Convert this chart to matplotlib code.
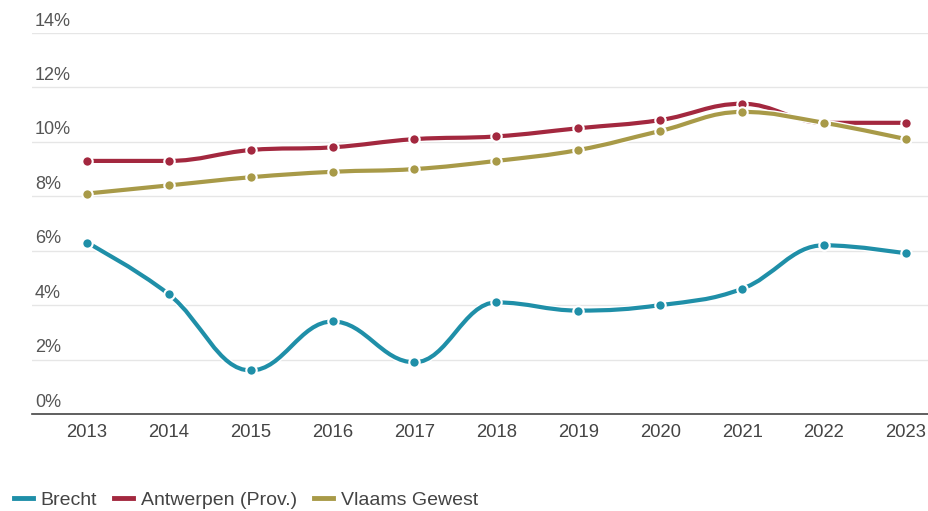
import matplotlib
matplotlib.use("Agg")
import matplotlib.pyplot as plt
from matplotlib.path import Path
from matplotlib.patches import PathPatch
from matplotlib.lines import Line2D
import matplotlib.patheffects as pe
import numpy as np

# Data
# ----
years = [2013, 2014, 2015, 2016, 2017, 2018, 2019, 2020, 2021, 2022, 2023]
brecht = [6.3, 4.4, 1.6, 3.4, 1.9, 4.1, 3.8, 4.0, 4.6, 6.2, 5.9]
antwerpen = [9.3, 9.3, 9.7, 9.8, 10.1, 10.2, 10.5, 10.8, 11.4, 10.7, 10.7]
vlaams = [8.1, 8.4, 8.7, 8.9, 9.0, 9.3, 9.7, 10.4, 11.1, 10.7, 10.1]

series = [("Brecht", brecht, "#1f8fa8"),
          ("Antwerpen (Prov.)", antwerpen, "#a3283f"),
          ("Vlaams Gewest", vlaams, "#a89a48")]

yticks = [0, 2, 4, 6, 8, 10, 12, 14]

plt.rcParams['font.family'] = ['Liberation Sans', 'DejaVu Sans']


def spline_path(xs, ys, smoothing=1.5):
  # highcharts-like spline: bezier segments through the data points
  n = len(xs)
  verts = [(xs[0], ys[0])]
  codes = [Path.MOVETO]
  right_prev = (xs[0], ys[0])
  for i in range(1, n):
    x, y = xs[i], ys[i]
    if i < n - 1:
      lx, ly = xs[i-1], ys[i-1]
      nx, ny = xs[i+1], ys[i+1]
      d = smoothing + 1
      lcx = (smoothing * x + lx) / d
      lcy = (smoothing * y + ly) / d
      rcx = (smoothing * x + nx) / d
      rcy = (smoothing * y + ny) / d
      if rcx != lcx:
        corr = (rcy - lcy) * (rcx - x) / (rcx - lcx) + y - rcy
        lcy += corr
        rcy += corr
      if lcy > max(ly, y):
        lcy = max(ly, y); rcy = 2 * y - lcy
      elif lcy < min(ly, y):
        lcy = min(ly, y); rcy = 2 * y - lcy
      if rcy > max(y, ny):
        rcy = max(y, ny); lcy = 2 * y - rcy
      elif rcy < min(y, ny):
        rcy = min(y, ny); lcy = 2 * y - rcy
      left = (lcx, lcy)
      right = (rcx, rcy)
    else:
      left = (x, y)
      right = (x, y)
    verts += [right_prev, left, (x, y)]
    codes += [Path.CURVE4] * 3
    right_prev = right
  return Path(verts, codes)


fig = plt.figure(figsize=(9.29, 5.11), dpi=100)
ax = fig.add_axes([32/929, 1 - 414/511, (928-32)/929, (414-33)/511])

ax.set_xlim(2012.33, 2023.27)
ax.set_ylim(0, 14)

for name, vals, col in series:
  p = PathPatch(spline_path(years, vals), facecolor='none', edgecolor=col, lw=3.0,
                capstyle='round', joinstyle='round', zorder=3,
                path_effects=[pe.Stroke(linewidth=5, foreground='white'), pe.Normal()])
  ax.add_patch(p)
  ax.plot(years, vals, linestyle='none', marker='o', ms=7.5, mfc=col, mec='white',
          mew=1.5, zorder=4)

for t in yticks:
  if t > 0:
    ax.axhline(t, color='#e6e6e6', lw=1, zorder=1)
  ax.annotate("%d%%" % t, xy=(0, t), xycoords=('axes fraction', 'data'),
              xytext=(2, 2.5), textcoords='offset points', ha='left', va='bottom',
              fontsize=13, color='#555555')

for s in ['top', 'right', 'left']:
  ax.spines[s].set_visible(False)
ax.spines['bottom'].set_color('#444444')
ax.spines['bottom'].set_linewidth(1.2)
ax.set_yticks([])
ax.set_xticks(years)
ax.set_xticklabels([str(y) for y in years], fontsize=13.3, color='#444444')
ax.tick_params(axis='x', length=0, pad=7)

handles = [Line2D([], [], color=col, lw=3.5) for _, _, col in series]
fig.legend(handles, [s[0] for s in series], loc='center left',
           bbox_to_anchor=(0.0, 1 - 500/511), borderaxespad=0.3,
           ncol=3, frameon=False, fontsize=14, handlelength=1.0, handletextpad=0.4,
           columnspacing=0.85, labelcolor='#444444')

plt.savefig('out.png', dpi=100)
